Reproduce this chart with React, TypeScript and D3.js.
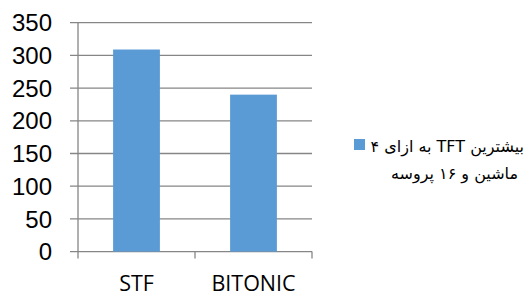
import React, { useEffect, useRef } from "react";
import * as d3 from "d3";

const categories = ["STF", "BITONIC"];
const values = [309, 240];
const yTicks = [0, 50, 100, 150, 200, 250, 300, 350];
const legendLines = ["بیشترین TFT به ازای ۴", "ماشین و ۱۶ پروسه"];

export default function App() {
  const ref = useRef<SVGSVGElement>(null);

  useEffect(() => {
    const svg = d3.select(ref.current);
    svg.selectAll("*").remove();

    const width = 526;
    const height = 297;
    const left = 78;
    const right = 312;
    const top = 22.7;
    const bottom = 251.6;
    const grid = "#868686";

    svg.append("rect").attr("width", width).attr("height", height).attr("fill", "#fff");

    const x = d3.scaleBand().domain(categories).range([left, right]).padding(0);
    const y = d3.scaleLinear().domain([0, 350]).range([bottom, top]);

    // gridlines with small left ticks
    svg
      .append("g")
      .selectAll("line")
      .data(yTicks)
      .join("line")
      .attr("x1", left - 8)
      .attr("x2", right)
      .attr("y1", (d) => y(d))
      .attr("y2", (d) => y(d))
      .attr("stroke", grid)
      .attr("stroke-width", 1.3);

    svg
      .append("g")
      .selectAll("text")
      .data(yTicks)
      .join("text")
      .attr("x", 52)
      .attr("y", (d) => y(d))
      .attr("dy", "0.36em")
      .attr("text-anchor", "end")
      .attr("font-family", "Liberation Sans, Arial, sans-serif")
      .attr("font-size", 24)
      .attr("fill", "#000")
      .text((d) => d);

    // bars
    const bw = x.bandwidth() * 0.4;
    svg
      .append("g")
      .attr("fill", "#5B9BD5")
      .selectAll("rect")
      .data(values)
      .join("rect")
      .attr("x", (d, i) => x(categories[i])! + x.bandwidth() / 2 - bw / 2)
      .attr("y", (d) => y(d))
      .attr("width", bw)
      .attr("height", (d) => y(0) - y(d));

    // axes
    svg
      .append("line")
      .attr("x1", left)
      .attr("x2", left)
      .attr("y1", top)
      .attr("y2", bottom)
      .attr("stroke", grid)
      .attr("stroke-width", 1.3);

    const xTicks = [...categories.map((c) => x(c)!), right];
    svg
      .append("g")
      .selectAll("line")
      .data(xTicks)
      .join("line")
      .attr("x1", (d) => d)
      .attr("x2", (d) => d)
      .attr("y1", bottom)
      .attr("y2", bottom + 7)
      .attr("stroke", grid)
      .attr("stroke-width", 1.3);

    svg
      .append("g")
      .selectAll("text")
      .data(categories)
      .join("text")
      .attr("x", (d) => x(d)! + x.bandwidth() / 2)
      .attr("y", 291)
      .attr("text-anchor", "middle")
      .attr("font-family", "Open Sans, sans-serif")
      .attr("font-size", 21.5)
      .attr("fill", "#000")
      .text((d) => d);

    // legend
    svg
      .append("rect")
      .attr("x", 354)
      .attr("y", 139)
      .attr("width", 11)
      .attr("height", 11)
      .attr("fill", "#5B9BD5");

    svg
      .append("g")
      .selectAll("text")
      .data(legendLines)
      .join("text")
      .attr("x", (d, i) => (i === 0 ? 524 : 518))
      .attr("y", (d, i) => 152 + i * 27)
      .attr("text-anchor", "start")
      .attr("direction", "rtl")
      .attr("font-family", "DejaVu Sans, sans-serif")
      .attr("font-size", 16)
      .attr("fill", "#000")
      .text((d) => d);
  }, []);

  return (
    <svg
      ref={ref}
      width={526}
      height={297}
      style={{ position: "absolute", left: 0, top: 0, display: "block" }}
    />
  );
}
